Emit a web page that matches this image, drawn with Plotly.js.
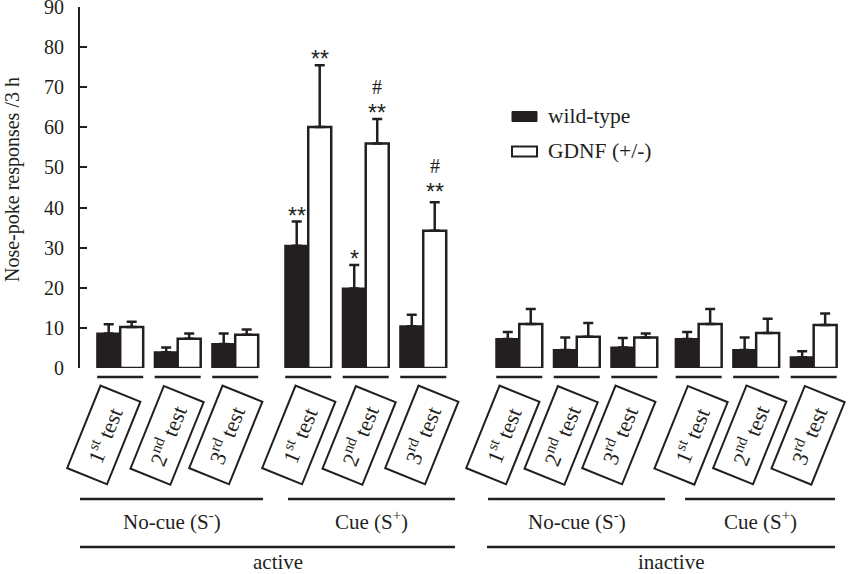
<!DOCTYPE html>
<html>
<head>
<meta charset="utf-8">
<script src="https://cdn.plot.ly/plotly-3.0.1.min.js"></script>
<style>
  html, body { margin: 0; padding: 0; background: #ffffff; }
  #chart { width: 850px; height: 574px; }
</style>
</head>
<body>
<div id="chart"></div>
<script>
// Nose-poke responses over 3 h, wild-type vs GDNF (+/-), per test session
const testLabels = ['1<sup>st</sup> test', '2<sup>nd</sup> test', '3<sup>rd</sup> test'];
const cueLabels = ['No-cue (S<sup>-</sup>)', 'Cue (S<sup>+</sup>)', 'No-cue (S<sup>-</sup>)', 'Cue (S<sup>+</sup>)'];
const leverLabels = ['active', 'inactive'];
const seriesNames = ['wild-type', 'GDNF (+/-)'];

const wildTypeMean = [8.6, 3.9, 6.0, 30.5, 19.8, 10.4, 7.2, 4.5, 5.1, 7.2, 4.5, 2.7];
const wildTypeSEM  = [2.3, 1.2, 2.6, 6.0, 5.9, 2.9, 1.8, 3.1, 2.4, 1.8, 3.1, 1.5];
const gdnfMean     = [10.2, 7.3, 8.3, 60.1, 56.0, 34.2, 11.0, 7.8, 7.6, 11.0, 8.7, 10.7];
const gdnfSEM      = [1.3, 1.3, 1.3, 15.4, 6.1, 7.1, 3.7, 3.4, 1.0, 3.7, 3.6, 2.9];

// significance marks drawn above the error bars
const wildTypeSig = ['', '', '', '**', '*', '', '', '', '', '', '', ''];
const gdnfSig     = ['', '', '', '**', '**', '**', '', '', '', '', '', ''];
const gdnfHash    = ['', '', '', '', '#', '#', '', '', '', '', '', ''];

// ---- layout geometry ----
const W = 850, H = 574;
const M = { l: 80, r: 10, t: 7, b: 206 };
const plotW = W - M.l - M.r, plotH = H - M.t - M.b;
const xRange = [-0.699, 12.518];
const blockStart = [0, 3.27, 6.94, 10.06];   // axis position of each 3-test block
const barW = 0.4;
const INK = '#231f20';
const SERIF = 'Liberation Serif';
const SANS = 'Liberation Sans';

// axis position of each test session (pair of bars)
const slotPos = [];
for (let b = 0; b < 4; b++) for (let j = 0; j < 3; j++) slotPos.push(blockStart[b] + j);
const slotTests = slotPos.map((_, i) => testLabels[i % 3]);

const xToPaper = v => (v - xRange[0]) / (xRange[1] - xRange[0]);
const pxToPaperY = py => (M.t + plotH - py) / plotH;
const pxToPaperX = px => (px - M.l) / plotW;

const zeros = slotPos.map(() => 0);

const traces = [
  {
    type: 'bar', name: seriesNames[0], x: slotPos, y: wildTypeMean,
    offset: -barW, width: barW,
    marker: { color: INK, line: { color: INK, width: 2 } },
    error_y: { type: 'data', symmetric: false, array: wildTypeSEM, arrayminus: zeros,
               color: INK, thickness: 2.5, width: 5 },
    showlegend: false, hoverinfo: 'skip'
  },
  {
    type: 'bar', name: seriesNames[1], x: slotPos, y: gdnfMean,
    offset: 0, width: barW,
    marker: { color: '#ffffff', line: { color: INK, width: 2.5 } },
    error_y: { type: 'data', symmetric: false, array: gdnfSEM, arrayminus: zeros,
               color: INK, thickness: 2.5, width: 5 },
    showlegend: false, hoverinfo: 'skip'
  }
];

const shapes = [];
const annotations = [];
const line = (x0, y0, x1, y1, w) => ({
  type: 'line', xref: 'paper', yref: 'paper', x0, y0, x1, y1,
  line: { color: INK, width: w || 2.5 }
});

// short rule under each pair of bars + tilted boxed session label
const boxNudge = [-17, -11, -10, -10, -7, -2, -17, -16, -16, -8, -7, -6];
slotPos.forEach((p, i) => {
  shapes.push(line(xToPaper(p - barW), pxToPaperY(377), xToPaper(p + barW), pxToPaperY(377), 2.5));
  annotations.push({
    xref: 'x', yref: 'paper', x: p, y: pxToPaperY(435), xshift: boxNudge[i],
    xanchor: 'center', yanchor: 'middle', showarrow: false,
    text: slotTests[i], textangle: -68,
    width: 85, height: 39, borderpad: 1, borderwidth: 2, bordercolor: INK,
    font: { family: SERIF, size: 22, color: INK }
  });
});

// significance marks (extra lift for the taller stack over the last cue test)
const markLift = [0, 0, 0, 0, 0, 4, 0, 0, 0, 0, 0, 0];
const sigMark = (x, top, txt, shift, size, fam) => annotations.push({
  xref: 'x', yref: 'y', x, y: top, yshift: shift, xanchor: 'center', yanchor: 'middle',
  showarrow: false, text: txt, font: { family: fam, size, color: INK }
});
slotPos.forEach((p, i) => {
  if (wildTypeSig[i]) sigMark(p - barW / 2, wildTypeMean[i] + wildTypeSEM[i], wildTypeSig[i], 6, 23, SANS);
  if (gdnfSig[i]) sigMark(p + barW / 2, gdnfMean[i] + gdnfSEM[i], gdnfSig[i], 6 + markLift[i], 23, SANS);
  if (gdnfHash[i]) sigMark(p + barW / 2, gdnfMean[i] + gdnfSEM[i], gdnfHash[i], 32 + markLift[i], 20, SERIF);
});

// cue brackets (axis units) and lever brackets
const cueSpans = [[-0.699, 2.484], [2.918, 5.823], [6.397, 9.475], [9.823, 12.432]];
const leverSpans = [[-0.699, 5.823], [6.379, 12.432]];
cueSpans.forEach((s, k) => {
  shapes.push(line(xToPaper(s[0]), pxToPaperY(499), xToPaper(s[1]), pxToPaperY(499), 2.5));
  annotations.push({
    xref: 'paper', yref: 'paper', x: xToPaper((s[0] + s[1]) / 2), y: pxToPaperY(520),
    xanchor: 'center', yanchor: 'middle', showarrow: false,
    text: cueLabels[k], font: { family: SERIF, size: 21, color: INK }
  });
});
leverSpans.forEach((s, k) => {
  shapes.push(line(xToPaper(s[0]), pxToPaperY(547), xToPaper(s[1]), pxToPaperY(547), 2.5));
  annotations.push({
    xref: 'paper', yref: 'paper', x: xToPaper((s[0] + s[1]) / 2), xshift: 10, y: pxToPaperY(562),
    xanchor: 'center', yanchor: 'middle', showarrow: false,
    text: leverLabels[k], font: { family: SERIF, size: 21, color: INK }
  });
});

// legend
shapes.push({ type: 'rect', xref: 'paper', yref: 'paper',
  x0: pxToPaperX(512), x1: pxToPaperX(537), y0: pxToPaperY(121.5), y1: pxToPaperY(111.5),
  fillcolor: INK, line: { color: INK, width: 1 } });
shapes.push({ type: 'rect', xref: 'paper', yref: 'paper',
  x0: pxToPaperX(512), x1: pxToPaperX(537), y0: pxToPaperY(156.5), y1: pxToPaperY(146.5),
  fillcolor: '#ffffff', line: { color: INK, width: 2 } });
[[116, seriesNames[0]], [151.5, seriesNames[1]]].forEach(([py, name]) => annotations.push({
  xref: 'paper', yref: 'paper', x: pxToPaperX(546), y: pxToPaperY(py),
  xanchor: 'left', yanchor: 'middle', showarrow: false,
  text: name, font: { family: SERIF, size: 21.5, color: INK }
}));

// y-axis title
annotations.push({
  xref: 'paper', yref: 'paper', x: pxToPaperX(12), y: pxToPaperY(180),
  xanchor: 'center', yanchor: 'middle', showarrow: false, textangle: -90,
  text: 'Nose-poke responses /3 h', font: { family: SERIF, size: 20, color: INK }
});

const layout = {
  width: W, height: H, autosize: false,
  margin: M,
  paper_bgcolor: '#ffffff', plot_bgcolor: '#ffffff',
  font: { family: SERIF, color: INK },
  barmode: 'overlay',
  showlegend: false,
  xaxis: { range: xRange, visible: false, fixedrange: true },
  yaxis: {
    range: [0, 90], tickvals: [0, 10, 20, 30, 40, 50, 60, 70, 80, 90],
    showline: true, linecolor: INK, linewidth: 2,
    ticks: 'inside', ticklen: 7, tickwidth: 2, tickcolor: INK,
    showgrid: false, zeroline: false,
    tickfont: { family: SERIF, size: 20, color: INK },
    ticklabelstandoff: 10, ticklabeloverflow: 'allow', fixedrange: true
  },
  shapes, annotations
};

Plotly.newPlot('chart', traces, layout, { staticPlot: true, displayModeBar: false });
</script>
</body>
</html>
